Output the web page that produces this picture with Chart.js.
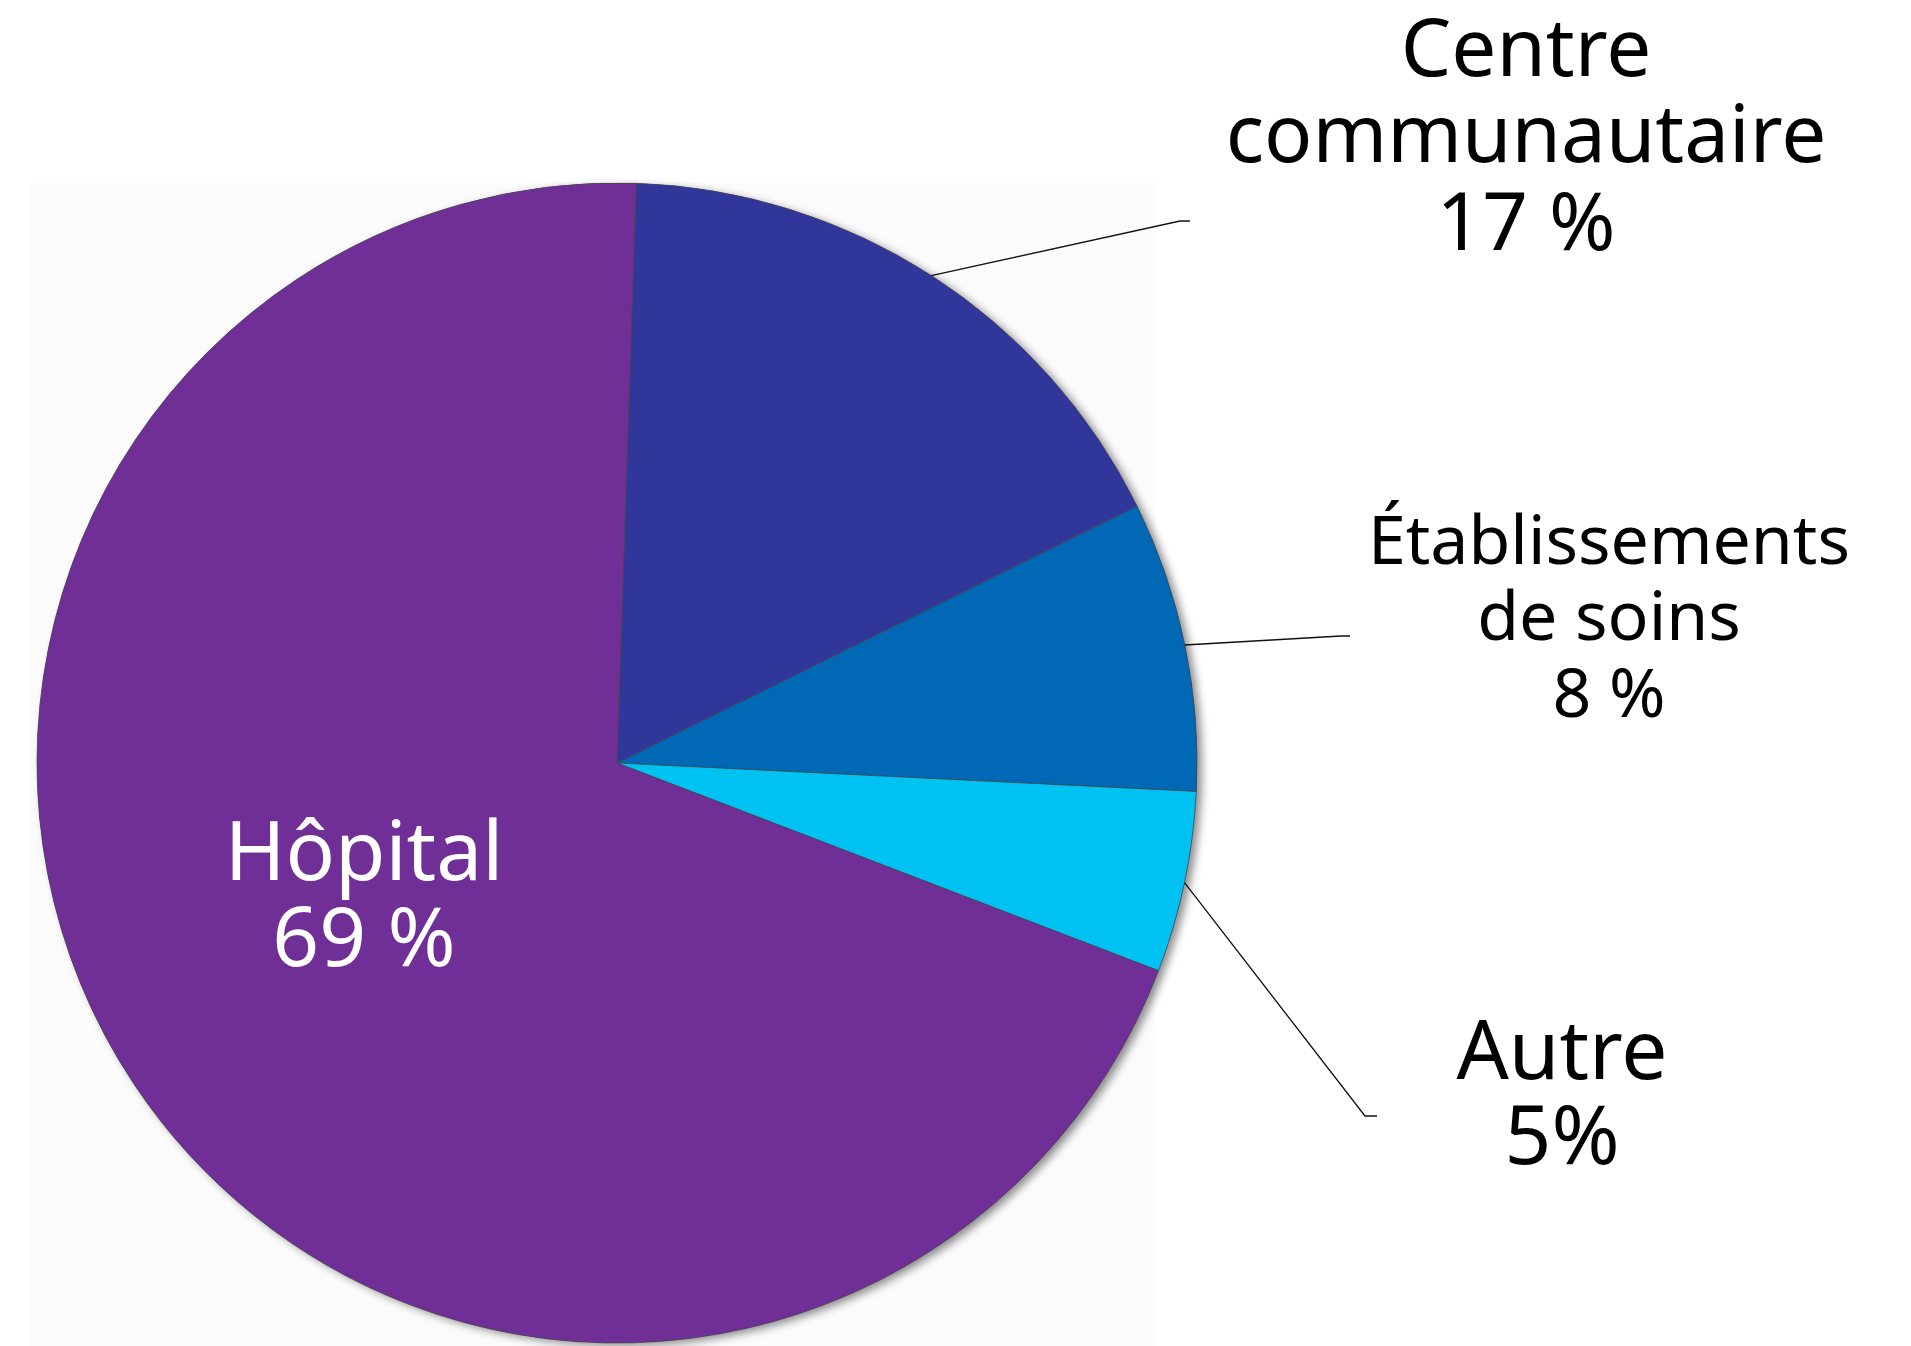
<!DOCTYPE html>
<html lang="fr">
<head>
<meta charset="utf-8">
<title>Répartition</title>
<script src="https://cdn.jsdelivr.net/npm/chart.js@4/dist/chart.umd.min.js"></script>
<style>
  html, body { margin: 0; padding: 0; background: #ffffff; }
  #wrap { position: relative; width: 1911px; height: 1346px; overflow: hidden; }
  #panel { position: absolute; left: 30px; top: 183px; width: 1125px; height: 1163px; background: #fbfbfb; }
  #c { position: absolute; left: 0; top: 0; }
</style>
</head>
<body>
<div id="wrap">
  <div id="panel"></div>
  <canvas id="c" width="1911" height="1346"></canvas>
</div>
<script>
// ---- data ----
const categories = ['Centre communautaire', 'Établissements de soins', 'Autre', 'Hôpital'];
const values = [17, 8, 5, 69];
const labelLines = [
  ['Centre', 'communautaire', '17 %'],
  ['Établissements', 'de soins', '8 %'],
  ['Autre', '5%'],
  ['Hôpital', '69 %']
];
const colors = ['#31369A', '#0068B4', '#00C2F2', '#702F96'];

// ---- layout (label placement) ----
const FONT = '"Noto Sans", "Open Sans", sans-serif';
const labelStyle = [
  { x: 1526, baselines: [76, 162, 250], size: 80, color: '#000000', elbow: [1180, 221], end: 1190 },
  { x: 1609, baselines: [564, 640, 717], size: 68, color: '#000000', elbow: [1341, 636], end: 1350 },
  { x: 1562, baselines: [1079, 1164], size: 82, color: '#000000', elbow: [1365, 1116], end: 1377 },
  { x: 364, baselines: [880, 966], size: 82, color: '#ffffff', elbow: null }
];

const shadowPlugin = {
  id: 'pieShadow',
  beforeDatasetsDraw(chart) {
    const arc = chart.getDatasetMeta(0).data[0];
    if (!arc) return;
    const ctx = chart.ctx;
    ctx.save();
    ctx.shadowColor = 'rgba(0,0,0,0.45)';
    ctx.shadowBlur = 9;
    ctx.shadowOffsetX = 5;
    ctx.shadowOffsetY = 3;
    ctx.fillStyle = '#702F96';
    ctx.beginPath();
    ctx.arc(arc.x, arc.y, arc.outerRadius, 0, Math.PI * 2);
    ctx.fill();
    ctx.restore();
  }
};

const labelPlugin = {
  id: 'pieLabels',
  afterDatasetsDraw(chart) {
    const ctx = chart.ctx;
    const meta = chart.getDatasetMeta(0);
    ctx.save();
    meta.data.forEach((arc, i) => {
      const st = labelStyle[i];
      if (st.elbow) {
        const mid = (arc.startAngle + arc.endAngle) / 2;
        const sx = arc.x + Math.cos(mid) * arc.outerRadius;
        const sy = arc.y + Math.sin(mid) * arc.outerRadius;
        ctx.strokeStyle = '#111111';
        ctx.lineWidth = 1.3;
        ctx.beginPath();
        ctx.moveTo(sx, sy);
        ctx.lineTo(st.elbow[0], st.elbow[1]);
        ctx.lineTo(st.end, st.elbow[1]);
        ctx.stroke();
      }
      ctx.fillStyle = st.color;
      ctx.font = '400 ' + st.size + 'px ' + FONT;
      ctx.textAlign = 'center';
      ctx.textBaseline = 'alphabetic';
      labelLines[i].forEach((line, k) => {
        ctx.fillText(line, st.x, st.baselines[k]);
      });
    });
    ctx.restore();
  }
};

new Chart(document.getElementById('c'), {
  type: 'pie',
  data: {
    labels: categories,
    datasets: [{
      data: values,
      backgroundColor: colors,
      borderColor: 'rgba(70,70,80,0.75)',
      borderWidth: 1
    }]
  },
  options: {
    responsive: false,
    animation: false,
    rotation: 1.9,
    radius: 580,
    layout: { padding: { left: 0, right: 677, top: 180, bottom: 0 } },
    plugins: {
      legend: { display: false },
      tooltip: { enabled: false },
      title: { display: false }
    }
  },
  plugins: [shadowPlugin, labelPlugin]
});
</script>
</body>
</html>
